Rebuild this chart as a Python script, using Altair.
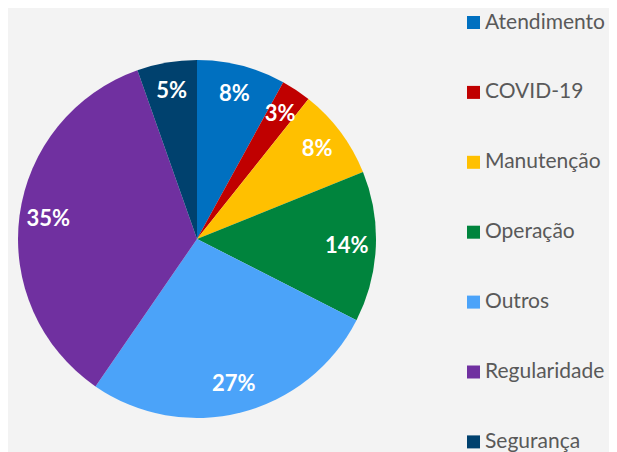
import altair as alt
import pandas as pd

categories = ["Atendimento", "COVID-19", "Manutenção", "Operação", "Outros", "Regularidade", "Segurança"]
values = [8.0, 2.7, 8.2, 13.6, 27.1, 35.0, 5.4]
colors = ["#0070C0", "#C00000", "#FFC000", "#00843D", "#4BA3F9", "#7030A0", "#00416E"]

df = pd.DataFrame({"categoria": categories, "valor": values, "ordem": list(range(len(categories)))})

cx, cy = 189, 231

base = alt.Chart(df).transform_joinaggregate(
    total="sum(valor)"
).transform_calculate(
    pct="format(datum.valor / datum.total, '.0%')"
).encode(
    theta=alt.Theta("valor:Q", stack=True),
    order=alt.Order("ordem:Q"),
    x=alt.value(cx),
    y=alt.value(cy),
)

pie = base.mark_arc(outerRadius=179, stroke=None).encode(
    color=alt.Color(
        "categoria:N",
        scale=alt.Scale(domain=categories, range=colors),
        sort=categories,
        legend=alt.Legend(
            title=None,
            orient="none",
            legendX=455,
            legendY=4,
            symbolType="square",
            symbolSize=169,
            symbolStrokeWidth=0,
            labelFont="Lato",
            labelFontSize=21,
            labelColor="#595959",
            labelOffset=1,
            rowPadding=47.9,
            labelLimit=200,
        ),
    )
)

labels = base.mark_text(
    radius=150, font="Lato", fontSize=22, fontWeight="bold", color="white",
    align="center", baseline="middle"
).encode(text="pct:N")

chart = (pie + labels).properties(
    width=601, height=444, padding=0,
    autosize=alt.AutoSizeParams(type="none"),
).configure(background="#f3f3f3").configure_view(stroke=None)

chart.save("out.html", embed_options={"renderer": "svg", "actions": False})
